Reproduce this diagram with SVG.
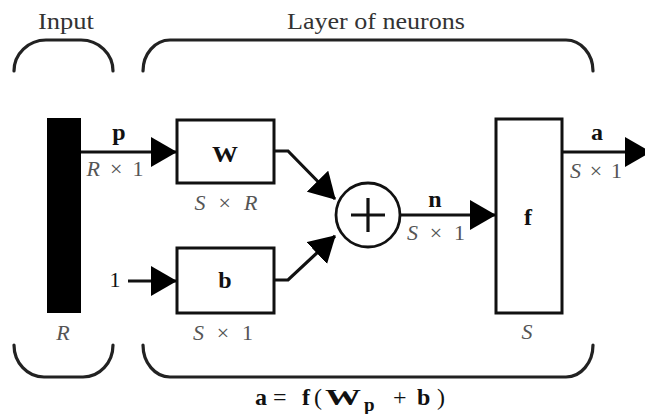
<svg xmlns="http://www.w3.org/2000/svg" width="645" height="414" viewBox="0 0 645 414">
<style>
.br{fill:none;stroke:#222;stroke-width:3.2;stroke-linecap:round}
.box{fill:#fff;stroke:#111;stroke-width:3}
.ln{fill:none;stroke:#111;stroke-width:3.2}
.t{font-family:"Liberation Serif","DejaVu Serif",serif;}
.hd{font-size:24px;fill:#333;text-anchor:middle}
.bl{font-size:24px;font-weight:bold;fill:#111;text-anchor:middle}
.dim{font-size:22px;fill:#555;text-anchor:middle}
.it{font-style:italic}
.fm{font-size:24px;fill:#111}
</style>
<defs>
<marker id="ah" viewBox="0 0 26 30" refX="25" refY="15" markerWidth="26" markerHeight="30" markerUnits="userSpaceOnUse" orient="auto">
<path d="M0,0 L26,15 L0,30 Z" fill="#000"/>
</marker>
</defs>
<rect width="645" height="414" fill="#fff"/>

<g id="brackets">
<path class="br" d="M14,71 A32,31 0 0 1 46,40 H81 A32,31 0 0 1 113,71"/>
<path class="br" d="M143,71 A27,31 0 0 1 170,40 H566 A27,31 0 0 1 593,71"/>
<path class="br" d="M14,345 A30,32 0 0 0 44,377 H83 A30,32 0 0 0 113,345"/>
<path class="br" d="M143,345 A27,32 0 0 0 170,377 H566 A27,32 0 0 0 593,345"/>
<text class="t hd" x="66" y="29" textLength="56" lengthAdjust="spacingAndGlyphs">Input</text>
<text class="t hd" x="376" y="29" textLength="178" lengthAdjust="spacingAndGlyphs">Layer of neurons</text>
</g>

<g id="input">
<rect x="47" y="118" width="34" height="195" fill="#000"/>
<text class="t dim it" x="63" y="340">R</text>
</g>

<g id="weight">
<rect class="box" x="177" y="120" width="97" height="63"/>
<text class="t bl" x="225" y="162" textLength="26" lengthAdjust="spacingAndGlyphs">W</text>
<text class="t dim" x="226" y="210" textLength="63" lengthAdjust="spacing"><tspan class="it">S</tspan> × <tspan class="it">R</tspan></text>
</g>

<g id="bias">
<rect class="box" x="177" y="248" width="97" height="65"/>
<text class="t bl" x="225" y="288">b</text>
<text class="t dim" x="223" y="340" textLength="60" lengthAdjust="spacing"><tspan class="it">S</tspan> × 1</text>
<text class="t" x="115" y="287" font-size="22" fill="#111" text-anchor="middle">1</text>
</g>

<g id="sum">
<circle cx="368" cy="215" r="32" fill="#fff" stroke="#111" stroke-width="2.8"/>
<path class="ln" d="M351,215 H385 M368,198 V232"/>
</g>

<g id="transfer">
<rect class="box" x="496" y="119" width="66" height="194"/>
<text class="t bl" x="528" y="225">f</text>
<text class="t dim it" x="527" y="339">S</text>
</g>

<g id="connectors">
<path class="ln" d="M81,152 H176" marker-end="url(#ah)"/>
<path class="ln" d="M128,281 H176" marker-end="url(#ah)"/>
<path class="ln" d="M274,151 H288 L335,199" marker-end="url(#ah)"/>
<path class="ln" d="M274,280 H288 L335,236" marker-end="url(#ah)"/>
<path class="ln" d="M400,215 H495" marker-end="url(#ah)"/>
<path class="ln" d="M562,152 H650" marker-end="url(#ah)"/>
<text class="t bl" x="119" y="140">p</text>
<text class="t dim" x="115" y="176" textLength="57" lengthAdjust="spacing"><tspan class="it">R</tspan>×1</text>
<text class="t bl" x="435" y="207">n</text>
<text class="t dim" x="436" y="240" textLength="58" lengthAdjust="spacing"><tspan class="it">S</tspan> × 1</text>
<text class="t bl" x="597" y="140">a</text>
<text class="t dim" x="596" y="178" textLength="52" lengthAdjust="spacing"><tspan class="it">S</tspan>×1</text>
</g>

<g id="formula" class="t fm">
<text x="255" y="405" font-weight="bold">a</text>
<text x="273" y="405">=</text>
<text x="302" y="405" font-weight="bold">f</text>
<text x="314" y="405">(</text>
<text x="325" y="405" font-weight="bold" textLength="36" lengthAdjust="spacingAndGlyphs">W</text>
<text x="364" y="411" font-weight="bold" font-size="19">p</text>
<text x="393" y="405">+</text>
<text x="417" y="405" font-weight="bold">b</text>
<text x="437" y="405">)</text>
</g>
</svg>
